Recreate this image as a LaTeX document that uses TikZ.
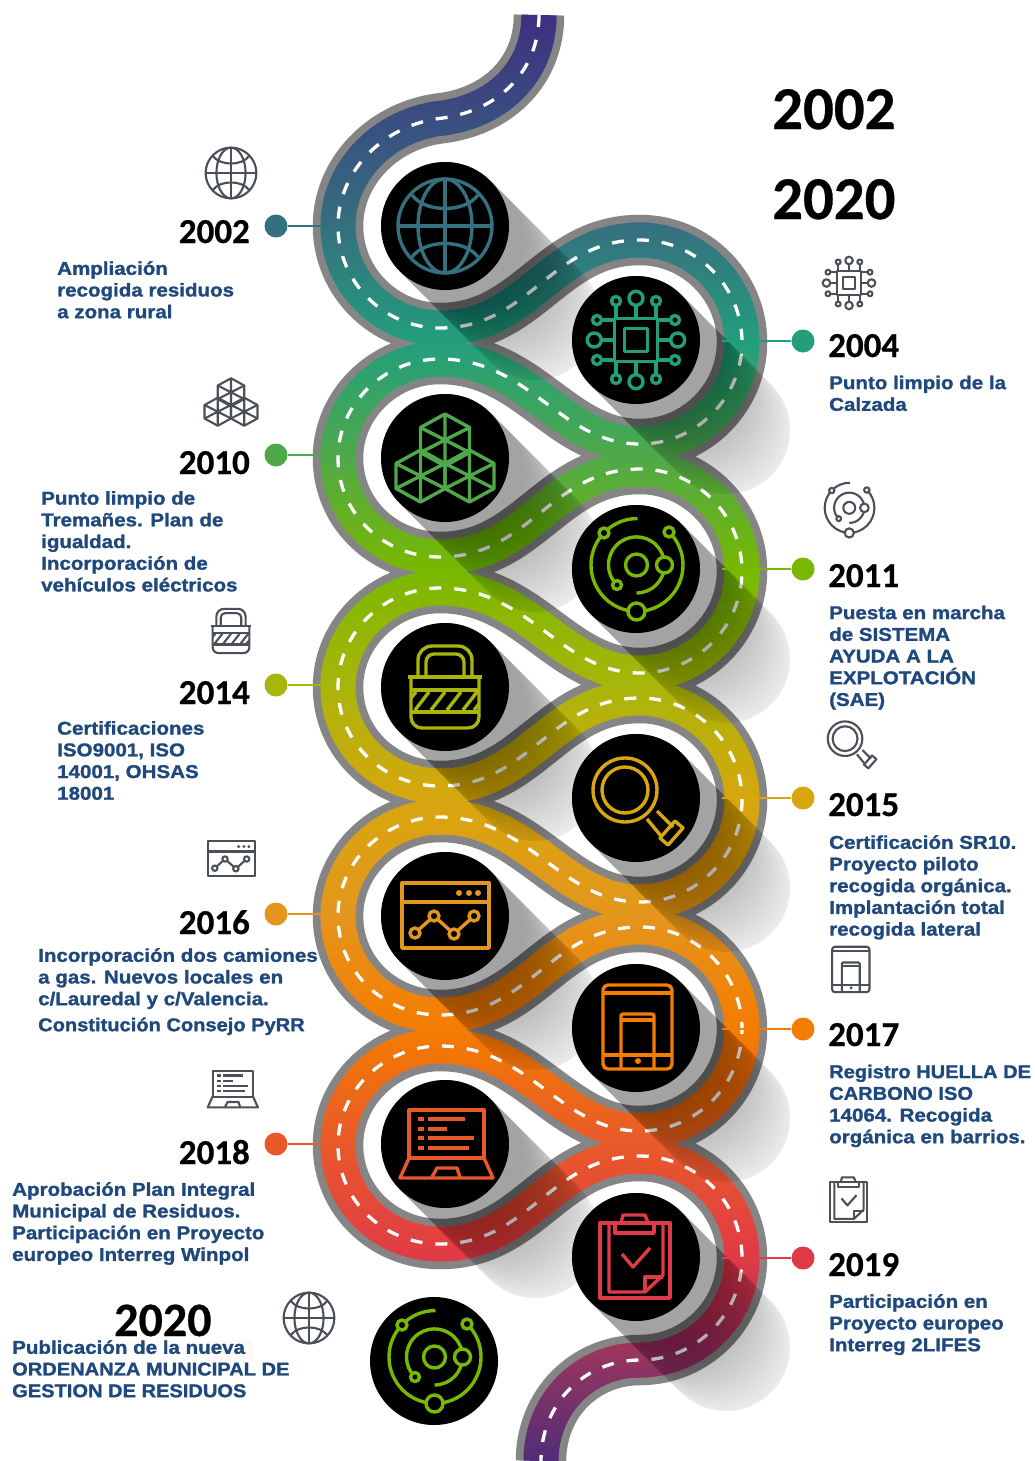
\documentclass[tikz,border=0pt]{standalone}
\usepackage{fontspec}
\newfontfamily\yearf[BoldFeatures={FakeBold=0.5}]{Carlito}
\newfontfamily\bodyf[BoldFeatures={FakeStretch=1.11,FakeBold=1.3}]{Liberation Sans}
\newfontfamily\bodyn[BoldFeatures={FakeStretch=1.085,FakeBold=1.3}]{Liberation Sans}
\definecolor{roadc0}{HTML}{3F2A80}
\definecolor{roadc1}{HTML}{3A4C80}
\definecolor{roadc2}{HTML}{35707F}
\definecolor{roadc3}{HTML}{239E7C}
\definecolor{roadc4}{HTML}{4FA94A}
\definecolor{roadc5}{HTML}{79B800}
\definecolor{roadc6}{HTML}{A9B50A}
\definecolor{roadc7}{HTML}{D8A60E}
\definecolor{roadc8}{HTML}{E4951D}
\definecolor{roadc9}{HTML}{F47C00}
\definecolor{roadc10}{HTML}{E8592A}
\definecolor{roadc11}{HTML}{E03A46}
\definecolor{roadc12}{HTML}{8A3463}
\definecolor{roadc13}{HTML}{3F2A80}
\definecolor{txtblue}{HTML}{1F497D}
\definecolor{iconsmall}{HTML}{4B4F58}
\definecolor{edgegray}{HTML}{858585}
\definecolor{paleback}{HTML}{FBFAF6}
\def\roadpath{(539,15) .. controls (539,70) and (500,110) .. (443,118)
 .. controls (385,124) and (338,170) .. (338,226)
 .. controls (338,282) and (384,328) .. (440,328)
 .. controls (530,328) and (550,240) .. (640,240)
 .. controls (696,240) and (742,286) .. (742,342) .. controls (742,398) and (696,444) .. (640,444)
 .. controls (560,444) and (530,359) .. (440,359)
 .. controls (384,359) and (338,404) .. (338,458) .. controls (338,514) and (384,557) .. (440,557)
 .. controls (530,557) and (550,469) .. (640,469)
 .. controls (696,469) and (742,515) .. (742,571) .. controls (742,627) and (696,673) .. (640,673)
 .. controls (560,673) and (530,588) .. (440,588)
 .. controls (384,588) and (338,633) .. (338,687) .. controls (338,743) and (384,786) .. (440,786)
 .. controls (530,786) and (550,698) .. (640,698)
 .. controls (696,698) and (742,744) .. (742,800) .. controls (742,856) and (696,902) .. (640,902)
 .. controls (560,902) and (530,817) .. (440,817)
 .. controls (384,817) and (338,862) .. (338,916) .. controls (338,972) and (384,1015) .. (440,1015)
 .. controls (530,1015) and (550,927) .. (640,927)
 .. controls (696,927) and (742,973) .. (742,1029) .. controls (742,1085) and (696,1131) .. (640,1131)
 .. controls (560,1131) and (530,1046) .. (440,1046)
 .. controls (384,1046) and (338,1091) .. (338,1145) .. controls (338,1201) and (384,1244) .. (440,1244)
 .. controls (530,1244) and (550,1156) .. (640,1156)
 .. controls (696,1156) and (742,1202) .. (742,1258) .. controls (742,1314) and (696,1360) .. (640,1360)
 .. controls (585,1360) and (541,1403) .. (541,1461)}
% icons, drawn in the pixel units of the big circles
\newcommand\iconglobe{
 \draw (0,0) circle (47);
 \draw (0,-47) -- (0,47) (-47,0) -- (47,0);
 \draw (0,0) ellipse (27 and 47);
 \draw (-33,-31) .. controls (-20,-13) and (20,-13) .. (33,-31);
 \draw (-33,31) .. controls (-20,13) and (20,13) .. (33,31);
}
\newcommand\iconchip{
 \draw (-21.7,-21.7) rectangle (21.7,21.7);
 \draw (-11.7,-11.7) rectangle (11.7,11.7);
 \foreach \aa in {0,90,180,270}{
  \begin{scope}[rotate=\aa]
   \draw (0,-21.7) -- (0,-34.7) (-20,-21.7) -- (-20,-34.5) (20,-21.7) -- (20,-34.5);
   \draw[fill=\iconbg] (0,-41.7) circle (7);
   \draw[fill=\iconbg] (-20,-39) circle (4.5);
   \draw[fill=\iconbg] (20,-39) circle (4.5);
  \end{scope}}
}
\newcommand\hexcube[2]{
 \draw ({#1},{#2-26}) -- ({#1+24.5},{#2-12.5}) -- ({#1+24.5},{#2+12.5}) -- ({#1},{#2+26}) -- ({#1-24.5},{#2+12.5}) -- ({#1-24.5},{#2-12.5}) -- cycle;
 \draw ({#1},{#2-26}) -- ({#1},{#2+26}) ({#1-24.5},{#2-12.5}) -- ({#1+24.5},{#2+12.5}) ({#1+24.5},{#2-12.5}) -- ({#1-24.5},{#2+12.5});
}
\newcommand\iconblocks{
 \hexcube{0}{-18}\hexcube{-24.5}{18}\hexcube{24.5}{18}
}
\newcommand\iconatom{
 \draw (0.5,-4) circle (11);
 \draw (1.5,-50.5) arc[start angle=-90,end angle=-270,radius=46.5];
 \draw (0.5,42.5) arc[start angle=90,end angle=-45,radius=46.5];
 \draw (-19,16) arc[start angle=134,end angle=360,radius=28];
 \draw (28.5,-4) arc[start angle=0,end angle=90,radius=28];
 \draw[fill=\iconbg] (28.5,-4) circle (8);
 \draw[fill=\iconbg] (-19,16) circle (4.5);
 \draw[fill=\iconbg] (-32,-36) circle (5);
 \draw[fill=\iconbg] (33,-37) circle (5);
 \draw[fill=\iconbg] (0.5,42.5) circle (8.5);
}
\newcommand\iconlock{
 \pgfmathsetmacro\rca{14*\isc}\pgfmathsetmacro\rcb{8*\isc}\pgfmathsetmacro\rcc{11*\isc}
 \draw[rounded corners=\rca pt] (-27,-10) -- (-27,-41) -- (27,-41) -- (27,-10);
 \draw[rounded corners=\rcb pt] (-19,-10) -- (-19,-33) -- (19,-33) -- (19,-10);
 \draw (-37,-10) -- (37,-10);
 \draw[rounded corners=\rcc pt] (-34,-10) -- (-34,41) -- (34,41) -- (34,-10);
 \draw (-34,3) -- (34,3) (-34,25) -- (34,25);
 \foreach \xx in {-30,-14,2,18}{\draw (\xx,23) -- (\xx+14,5);}
 \draw (-34,11) -- (-29,5) (29,23) -- (34,17);
}
\newcommand\iconmag{
 \draw (-11,-8) circle (32);
 \draw (-11,-8) circle (23);
 \draw (11,21) -- (25,38) (21,13) -- (37,29);
 \draw (24,40) -- (32,47) -- (47,30) -- (39,23) -- cycle;
}
\newcommand\iconwindow{
 \draw (-43,-33) rectangle (44,32);
 \draw (-43,-14) -- (44,-14);
 \foreach \xx in {14,24,33}{\fill (\xx,-23) circle (3);}
 \draw (-30,17) -- (-11,0) -- (9,18) -- (29,0);
 \foreach \xx/\vv in {-30/17,-11/0,9/18,29/0}{\draw[fill=\iconbg] (\xx,\vv) circle (5);}
}
\newcommand\icontablet{
 \pgfmathsetmacro\rca{5*\isc}\pgfmathsetmacro\rcb{2*\isc}
 \draw[rounded corners=\rca pt] (-33,-43) rectangle (36,41);
 \draw (-33,-35) -- (36,-35) (-33,27) -- (36,27);
 \draw[rounded corners=\rcb pt] (-15,41) -- (-15,-14) -- (18,-14) -- (18,41);
 \draw (-15,-8) -- (18,-8);
 \fill (2,33) circle (3);
}
\newcommand\iconlaptop{
 \draw (-36,14) -- (-36,-34) -- (39,-34) -- (39,14) -- cycle;
 \draw (-36,14) -- (-45,34) -- (48,34) -- (39,14);
 \draw (-13,33) -- (-8,24) -- (12,24) -- (15,33);
 \foreach \vv/\ww in {-25/20,-15/2,-6/29,4/24}{
  \fill (-27,\vv-2) rectangle (-21,\vv+2);
  \fill (-17,\vv-2) rectangle (\ww,\vv+2);}
}
\newcommand\iconclip{
 \draw (-36,-34) -- (-36,41) -- (34,41) -- (34,-34) -- cycle;
 \draw (-27,-34) -- (-27,35) -- (9,35) -- (27,18) -- (27,-34);
 \draw (9,35) -- (9,20) -- (27,20);
 \draw (-21,-34) -- (-21,-24) -- (18,-24) -- (18,-34);
 \draw (-15,-34) -- (-13,-42) -- (9,-42) -- (12,-34);
 \draw (-14,-3) -- (-3,10) -- (14,-9);
}
\tikzset{
 year/.style={font=\yearf\bfseries\fontsize{35}{35}\selectfont,inner sep=0pt},
 bigyear/.style={font=\yearf\bfseries\fontsize{60.8}{61}\selectfont,inner sep=0pt,anchor=base west},
 bodytxt/.style={font=\bodyf\bfseries\fontsize{18.5}{21.7}\selectfont,text=txtblue,align=left,inner sep=0pt,anchor=north west,execute at begin node={\rule{0pt}{14pt}}},
 disc/.style={circle,fill=black,minimum size=128pt,inner sep=0pt},
 dot/.style={circle,minimum size=23pt,inner sep=0pt},
 leader/.style={line width=2.8pt},
}
\newcommand\bigicon[4]{\begin{scope}[shift={(#1,#2)},color=#3,line width=3.4pt,line join=round]\def\isc{1}\def\iconbg{black}#4\end{scope}}
\newcommand\smallicon[3]{\begin{scope}[shift={(#1,#2)},scale=0.54,color=iconsmall,line width=2.1pt,line join=round]\def\isc{0.54}\def\iconbg{white}#3\end{scope}}
\newcommand\shadowband[2]{
 \draw[black,line width=128pt,line cap=round,opacity=0.08] (#1,#2) -- ++(90,90);
 \foreach \dd in {16,19,...,88}{\draw[black,line width=128pt,line cap=round,opacity=0.013] (#1,#2) -- ++(\dd,\dd);}
}
\begin{document}
\begin{tikzpicture}[x=1pt,y=-1pt]
\useasboundingbox (0,0) rectangle (1035,1461);
\fill[white] (0,0) rectangle (1035,1461);
% road: edge, then colour bands by height, then centre dashes
\draw[edgegray,line width=50.5pt] \roadpath;
\foreach \yy in {15,18,...,1461}{
 \pgfmathsetmacro\nn{(\yy+3)/114.6}
 \pgfmathtruncatemacro\ii{floor(\nn)}
 \pgfmathtruncatemacro\jj{\ii+1}
 \pgfmathtruncatemacro\pp{round(100*(1-(\nn-\ii)))}
 \begin{scope}
  \clip (0,\yy) rectangle (1035,\yy+3.7);
  \draw[color=roadc\ii!\pp!roadc\jj,line width=35pt] \roadpath;
 \end{scope}
}
\draw[white,line width=3.3pt,dash pattern=on 12pt off 13pt] \roadpath;
% long shadows
\shadowband{445}{226}\shadowband{636}{340}\shadowband{445}{458}\shadowband{636}{569}
\shadowband{445}{687}\shadowband{636}{798}\shadowband{445}{916}\shadowband{636}{1028}
\shadowband{445}{1144}\shadowband{636}{1257}
% discs
\node[disc] (c1) at (445,226) {};
\node[disc] (c2) at (636,340) {};
\node[disc] (c3) at (445,458) {};
\node[disc] (c4) at (636,569) {};
\node[disc] (c5) at (445,687) {};
\node[disc] (c6) at (636,798) {};
\node[disc] (c7) at (445,916) {};
\node[disc] (c8) at (636,1028) {};
\node[disc] (c9) at (445,1144) {};
\node[disc] (c10) at (636,1257) {};
\node[disc] (c11) at (434,1361) {};
\bigicon{445}{226}{roadc2}{\iconglobe}
\bigicon{636}{340}{roadc3}{\iconchip}
\bigicon{445}{458}{roadc4}{\iconblocks}
\bigicon{636}{569}{roadc5}{\iconatom}
\bigicon{445}{687}{roadc6}{\iconlock}
\bigicon{636}{798}{roadc7}{\iconmag}
\bigicon{445}{916}{roadc8}{\iconwindow}
\bigicon{636}{1028}{roadc9}{\icontablet}
\bigicon{445}{1144}{roadc10}{\iconlaptop}
\bigicon{636}{1257}{roadc11}{\iconclip}
\bigicon{434}{1361}{roadc5}{\iconatom}
% small grey icons
\smallicon{231}{173}{\iconglobe}
\smallicon{849}{283}{\iconchip}
\smallicon{231}{402}{\iconblocks}
\smallicon{849}{510}{\iconatom}
\smallicon{231}{631}{\iconlock}
\smallicon{851}{743}{\iconmag}
\smallicon{231}{859}{\iconwindow}
\smallicon{850}{970}{\icontablet}
\smallicon{232}{1089}{\iconlaptop}
\smallicon{849}{1200}{\iconclip}
\smallicon{309}{1318}{\iconglobe}
% markers and leaders
\foreach \nm/\col/\dx/\yy/\rx in {a/roadc2/276/226/322,b/roadc3/803/341/722,c/roadc4/276/455/322,d/roadc5/803/569/722,e/roadc6/276/685/322,f/roadc7/803/798/722,g/roadc8/276/914/322,h/roadc9/803/1029/722,i/roadc10/276/1144/322,j/roadc11/803/1258/722}{
 \coordinate (r\nm) at (\rx,\yy);
 \node[dot,fill=\col] (d\nm) at (\dx,\yy) {};
 \draw[leader,\col] (d\nm) -- (r\nm);
}
% years
\node[bigyear] (y1) at (772,129) {2002};
\node[bigyear] (y2) at (772,219) {2020};
\node[year,anchor=base east] (ya) at (250,243) {2002};
\node[year,anchor=base east] (yc) at (250,474) {2010};
\node[year,anchor=base east] (ye) at (250,704) {2014};
\node[year,anchor=base east] (yg) at (250,934) {2016};
\node[year,anchor=base east] (yi) at (250,1164) {2018};
\node[year,anchor=base west] (yb) at (828,357) {2004};
\node[year,anchor=base west] (yd) at (828,587) {2011};
\node[year,anchor=base west] (yf) at (828,816) {2015};
\node[year,anchor=base west] (yh) at (828,1046) {2017};
\node[year,anchor=base west] (yj) at (828,1276) {2019};
\node[year,anchor=base west,font=\yearf\bfseries\fontsize{48}{48}\selectfont] (yk) at (114,1336) {2020};
% texts
\fill[paleback] (207,1340) rectangle (253,1363);
\node[bodytxt] (ta) at (57,261) {Ampliación\\recogida residuos\\a zona rural};
\node[bodytxt] (tc) at (41,491) {Punto limpio de\\Tremañes. Plan de\\igualdad.\\Incorporación de\\vehículos eléctricos};
\node[bodytxt] (te) at (57,721) {Certificaciones\\ISO9001, ISO\\14001, OHSAS\\18001};
\node[bodytxt] (tg) at (38,948) {Incorporación dos camiones\\a gas. Nuevos locales en\\c/Lauredal y c/Valencia.};
\node[bodytxt] (tg2) at (38,1017) {{\bodyn\bfseries Constitución Consejo PyRR}};
\node[bodytxt] (ti) at (12,1182) {Aprobación Plan Integral\\Municipal de Residuos.\\Participación en Proyecto\\europeo Interreg Winpol};
\node[bodytxt] (tk) at (12,1340) {Publicación de la nueva\\{\bodyn\bfseries ORDENANZA MUNICIPAL DE}\\{\bodyn\bfseries GESTION DE RESIDUOS}};
\node[bodytxt] (tb) at (829,375.5) {Punto limpio de la\\Calzada};
\node[bodytxt] (td) at (829,605.5) {Puesta en marcha\\de SISTEMA\\AYUDA A LA\\EXPLOTACIÓN\\(SAE)};
\node[bodytxt] (tf) at (829,835) {Certificación SR10.\\Proyecto piloto\\recogida orgánica.\\Implantación total\\recogida lateral};
\node[bodytxt] (th) at (829,1064.5) {{\bodyn\bfseries Registro HUELLA DE}\\{\bodyn\bfseries CARBONO ISO}\\14064. Recogida\\orgánica en barrios.};
\node[bodytxt] (tj) at (829,1294) {Participación en\\Proyecto europeo\\Interreg 2LIFES};
\end{tikzpicture}
\end{document}
